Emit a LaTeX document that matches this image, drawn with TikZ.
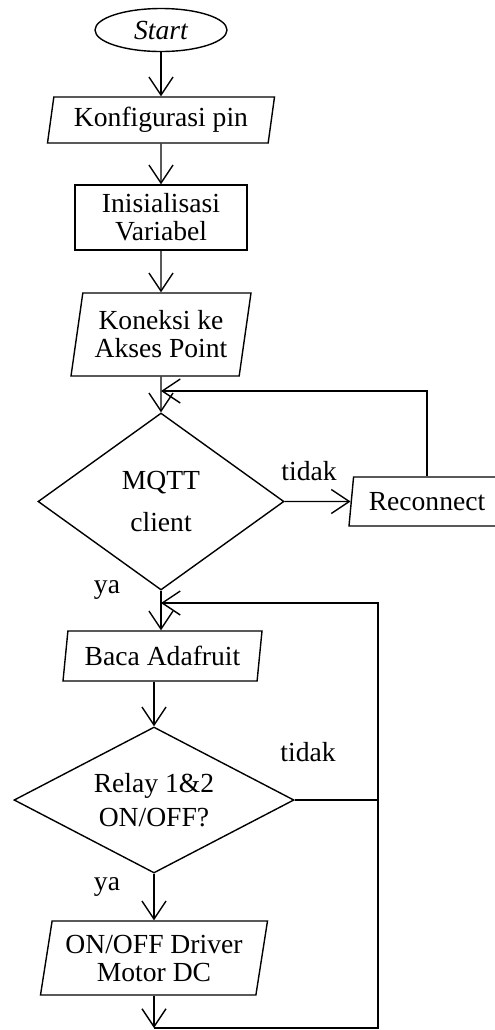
\documentclass[tikz,border=0pt]{standalone}
\usepackage{fontspec}
\setmainfont{Liberation Serif}
\usetikzlibrary{arrows.meta, shapes.geometric}

\begin{document}
\begin{tikzpicture}[x=0.5pt, y=-0.5pt, line width=0.7pt,
    every node/.style={font=\fontsize{13.8}{14}\selectfont, align=center, inner sep=0pt},
    terminal/.style={draw, ellipse},
    proc/.style={draw, rectangle},
    io/.style={draw, trapezium, trapezium left angle=76, trapezium right angle=104, trapezium stretches body},
    decision/.style={draw, diamond, aspect=1.6},
    arr/.style={-{Straight Barb[length=9pt, width=12pt]}}]
        \useasboundingbox (0,0) rectangle (494,1030);

        % Setup part
        \node[terminal, minimum width=66pt, minimum height=21.5pt] (start) at (161,30) {\itshape Start};
        \node[io, minimum width=113.5pt, minimum height=23pt] (konf) at (161,120) {Konfigurasi pin};
        \node[proc, minimum width=86pt, minimum height=32.5pt] (init) at (161,217.5) {Inisialisasi\\Variabel};
        \node[io, minimum width=90pt, minimum height=41.5pt] (kon) at (161,334.5) {Koneksi ke\\Akses Point};

        \draw[arr] (start) -- (konf);
        \draw[arr] (konf) -- (init);
        \draw[arr] (init) -- (kon);

        % MQTT check and reconnect loop
        \node[decision, minimum width=123pt, minimum height=88.5pt] (mqtt) at (161,501.5) {MQTT\\[7pt]client};
        \node[io, minimum width=78pt, minimum height=24.5pt] (recon) at (427,501.5) {Reconnect};
        \coordinate (jmqtt) at (161,391);

        \draw[arr] (kon) -- (mqtt);
        \draw[arr] (mqtt) -- (recon);
        \draw[arr] (recon.north) |- (jmqtt);
        \node (tidak1) at (309,471) {tidak};
        \node (ya1) at (107,590) {ya};

        % Relay loop
        \node[io, minimum width=99.5pt, minimum height=25pt] (baca) at (162.5,656) {Baca Adafruit};
        \node[decision, minimum width=140pt, minimum height=73pt] (relay) at (154,800) {Relay 1\&2\\[3pt]ON/OFF?};
        \node[io, minimum width=113.5pt, minimum height=37pt] (onoff) at (154,958) {ON/OFF Driver\\Motor DC};
        \coordinate (jbaca) at (161,603);
        \coordinate (rloop) at (378,603);
        \coordinate (loopbot) at (154,1028);

        \draw[arr] (mqtt) -- (mqtt |- baca.north);
        \draw[arr] (relay |- baca.south) -- (relay.north);
        \draw[arr] (relay) -- (onoff);
        \draw[arr] (onoff) -- (loopbot);
        \draw[arr] (loopbot) -| (rloop) -- (jbaca);
        \draw (relay.east) -- (relay.east -| rloop);
        \node (tidak2) at (308,752) {tidak};
        \node (ya2) at (107,887) {ya};
    \end{tikzpicture}
\end{document}
